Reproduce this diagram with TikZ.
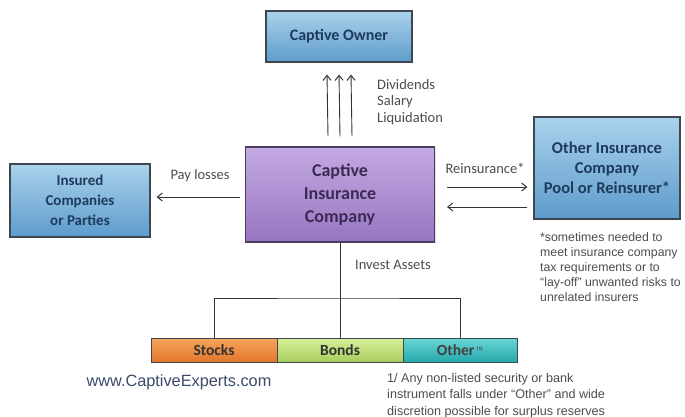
\documentclass[tikz,border=0pt]{standalone}
\usepackage{fontspec}
\setmainfont{Carlito}
\newfontfamily\arialfont{Liberation Sans}
\usetikzlibrary{arrows.meta,shadows}

\definecolor{boxline}{HTML}{3E4650}
\definecolor{blueTop}{HTML}{A9D2EC}
\definecolor{blueBot}{HTML}{5E9BCC}
\definecolor{navytext}{HTML}{1E3A5C}
\definecolor{purpleTop}{HTML}{C4A9E3}
\definecolor{purpleBot}{HTML}{9676C0}
\definecolor{purpleLine}{HTML}{4A3D5E}
\definecolor{purpleText}{HTML}{3B2A55}
\definecolor{orangeTop}{HTML}{F7A65C}
\definecolor{orangeBot}{HTML}{E2762A}
\definecolor{greenTop}{HTML}{D8EF98}
\definecolor{greenBot}{HTML}{A8CC5C}
\definecolor{tealTop}{HTML}{6AD6D6}
\definecolor{tealBot}{HTML}{25A8AC}
\definecolor{labelgray}{HTML}{4D4D4D}
\definecolor{webblue}{HTML}{3B4A6B}
\definecolor{connector}{HTML}{333333}

\begin{document}
\begin{tikzpicture}[x=1pt,y=-1pt,
  basebox/.style={line width=1.2pt, inner sep=0pt, align=center, font=\bfseries,
    drop shadow={opacity=0.25, shadow xshift=1.2pt, shadow yshift=-1.2pt}},
  bluebox/.style={basebox, draw=boxline, top color=blueTop, bottom color=blueBot, text=navytext},
  purplebox/.style={basebox, draw=purpleLine, top color=purpleTop, bottom color=purpleBot, text=purpleText},
  barbox/.style={draw=boxline, line width=1pt, inner sep=0pt, minimum height=24pt,
    font=\bfseries\fontsize{15.5}{17}\selectfont},
  lab/.style={inner sep=0pt, text=labelgray, font=\fontsize{14.5}{16.5}\selectfont},
  note/.style={inner sep=0pt, text=labelgray, align=left},
  link/.style={draw=connector, line width=0.9pt},
  arr/.style={link, -{Straight Barb[length=5pt,width=8pt,line width=1pt]}}
]
\useasboundingbox[fill=white] (0,0) rectangle (685,417);

% boxes
\node[bluebox, minimum width=146pt, minimum height=51pt,
      font=\bfseries\fontsize{16}{20}\selectfont] (owner) at (339,36.5) {Captive Owner};
\node[purplebox, minimum width=189pt, minimum height=95pt,
      font=\bfseries\fontsize{18}{23}\selectfont] (captive) at (340,194.5)
      {Captive\\Insurance\\Company};
\node[bluebox, minimum width=140pt, minimum height=73pt,
      font=\bfseries\fontsize{15}{20}\selectfont] (insured) at (80,200.5)
      {Insured\\Companies\\or Parties};
\node[bluebox, minimum width=146pt, minimum height=102pt,
      font=\bfseries\fontsize{16.5}{20}\selectfont] (other) at (607,168)
      {Other Insurance\\Company\\Pool or Reinsurer*};

% asset classes
\node[barbox, minimum width=126pt, top color=orangeTop, bottom color=orangeBot,
      text=black!80] (stocks) at (214,350) {Stocks};
\node[barbox, minimum width=126pt, top color=greenTop, bottom color=greenBot,
      text=black!80] (bonds) at (340,350) {Bonds};
\node[barbox, minimum width=114pt, top color=tealTop, bottom color=tealBot,
      text=black!75] (otherbar) at (460,350) {Other\,\textsuperscript{\tiny(1)}};

% payments to the owner
\foreach \dx in {-12,0,12}
  \draw[arr] ([xshift=\dx pt,yshift=10pt]captive.north) -- ([xshift=\dx pt,yshift=-12pt]owner.south);
\node[lab, anchor=north west, align=left] (divlab) at (377,79) {Dividends\\Salary\\Liquidation};

% losses paid out
\coordinate (pl) at ([xshift=-5pt,yshift=-2.5pt]captive.west);
\draw[arr, shorten >=6pt] (pl) -- (pl -| insured.east);
\node[lab] (paylab) at (200,176) {Pay losses};

% reinsurance flows
\coordinate (r1) at (447,187);
\coordinate (r2) at (447,207);
\draw[arr, shorten >=6pt] (r1) -- (r1 -| other.west);
\draw[arr, shorten <=6pt] (r2 -| other.west) -- (r2);
\node[lab] (reinlab) at (485,168) {Reinsurance*};

% investments
\coordinate (br) at (340,298);
\draw[link] (captive.south) -- (bonds.north);
\draw[link] (stocks.north) |- (br) -| (otherbar.north);
\node[lab] (investlab) at (393,265) {Invest Assets};

% notes
\node[note, anchor=north west, font=\arialfont\fontsize{12.3}{15}\selectfont] (reinnote) at (540,232)
  {*sometimes needed to\\meet insurance company\\tax requirements or to\\“lay-off” unwanted risks to\\unrelated insurers};
\node[note, anchor=north west, font=\arialfont\fontsize{12.6}{16.5}\selectfont] (othernote) at (387,373)
  {1/ Any non-listed security or bank\\instrument falls under “Other” and wide\\discretion possible for surplus reserves};
\node[inner sep=0pt, text=webblue, font=\arialfont\fontsize{16.3}{18}\selectfont] (web) at (179,382)
  {www.CaptiveExperts.com};
\end{tikzpicture}
\end{document}
